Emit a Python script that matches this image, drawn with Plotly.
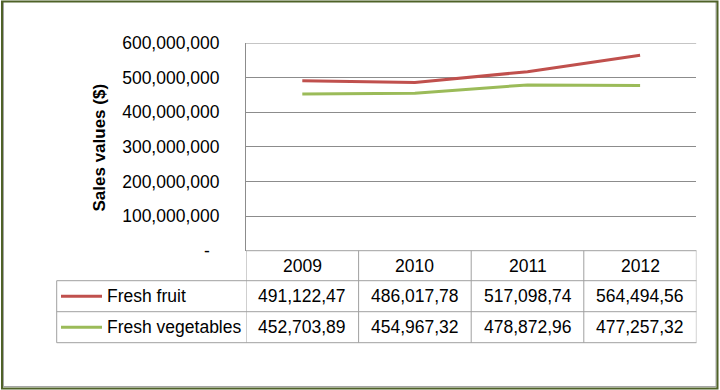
import plotly.graph_objects as go

years = ["2009", "2010", "2011", "2012"]
fruit = [491_122_470, 486_017_780, 517_098_740, 564_494_560]
veg = [452_703_890, 454_967_320, 478_872_960, 477_257_320]
fruit_labels = ["491,122,47", "486,017,78", "517,098,74", "564,494,56"]
veg_labels = ["452,703,89", "454,967,32", "478,872,96", "477,257,32"]
series_names = ["Fresh fruit", "Fresh vegetables"]
series_colors = ["#c0504d", "#9bbb59"]
tick_vals = [0, 100_000_000, 200_000_000, 300_000_000, 400_000_000, 500_000_000, 600_000_000]
tick_text = ["-\u00a0\u00a0", "100,000,000", "200,000,000", "300,000,000",
             "400,000,000", "500,000,000", "600,000,000"]
y_title = "Sales values ($)"

W, H = 720, 390
FONT = "Liberation Sans, Arial, sans-serif"
FS = 17.5
GRID = "#8c8c8c"
TBL = "#a0a0a0"

def px(x):
    return x / W

def py(y):
    return 1 - y / H

plot_left, plot_right = 246, 696.4
plot_top, plot_bottom = 43, 250.7
rows = [250.7, 280.7, 311.7, 342.7]
legend_left = 56.7

fig = go.Figure()
for name, vals, col in zip(series_names, [fruit, veg], series_colors):
    fig.add_trace(go.Scatter(x=years, y=vals, mode="lines", name=name,
                             line=dict(color=col, width=3), showlegend=False))

shapes = []
# top gridline at the axis maximum
shapes.append(dict(type="line", xref="x", yref="y", x0=-0.5, x1=3.5,
                   y0=tick_vals[-1], y1=tick_vals[-1], line=dict(color=GRID, width=1), layer="below"))
shapes.append(dict(type="line", xref="paper", yref="paper", x0=px(plot_left), x1=px(plot_right),
                   y0=py(rows[0]), y1=py(rows[0]), line=dict(color=TBL, width=1)))
for r in rows[1:]:
    shapes.append(dict(type="line", xref="paper", yref="paper", x0=px(legend_left), x1=px(plot_right),
                       y0=py(r), y1=py(r), line=dict(color=TBL, width=1)))
for b in [-0.5, 0.5, 1.5, 2.5, 3.5]:
    shapes.append(dict(type="line", xref="x", yref="paper", x0=b, x1=b,
                       y0=py(rows[0]), y1=py(rows[3]), line=dict(color=TBL, width=1)))
shapes.append(dict(type="line", xref="paper", yref="paper", x0=px(legend_left), x1=px(legend_left),
                   y0=py(rows[1]), y1=py(rows[3]), line=dict(color=TBL, width=1)))
for i, col in enumerate(series_colors):
    yc = (rows[i + 1] + rows[i + 2]) / 2
    shapes.append(dict(type="line", xref="paper", yref="paper", x0=px(61), x1=px(102),
                       y0=py(yc), y1=py(yc), line=dict(color=col, width=3)))
shapes.append(dict(type="line", xref="paper", yref="paper", x0=px(3.5), x1=px(3.5),
                   y0=py(2), y1=py(387), line=dict(color="#a6a6a6", width=1)))
shapes.append(dict(type="line", xref="paper", yref="paper", x0=px(716), x1=px(716),
                   y0=py(2), y1=py(387), line=dict(color="#a6a6a6", width=1)))
shapes.append(dict(type="line", xref="paper", yref="paper", x0=px(3), x1=px(716),
                   y0=py(386.5), y1=py(386.5), line=dict(color="#a6a6a6", width=1)))
shapes.append(dict(type="rect", xref="paper", yref="paper", x0=px(2), x1=px(717.5),
                   y0=py(1.5), y1=py(388.5), line=dict(color="#4f6228", width=2)))

annotations = []
txtfont = dict(family=FONT, size=FS, color="#000000")
hdr_y = (rows[0] + rows[1]) / 2
for i, yr in enumerate(years):
    annotations.append(dict(x=i, y=py(hdr_y), xref="x", yref="paper", text=yr, showarrow=False,
                            xanchor="center", yanchor="middle", font=txtfont))
for r, (name, labels) in enumerate(zip(series_names, [fruit_labels, veg_labels])):
    yc = (rows[r + 1] + rows[r + 2]) / 2
    annotations.append(dict(x=px(105), y=py(yc), xref="paper", yref="paper", text=name,
                            showarrow=False, xanchor="left", yanchor="middle", font=txtfont))
    for i, lab in enumerate(labels):
        annotations.append(dict(x=i, y=py(yc), xref="x", yref="paper", text=lab, showarrow=False,
                                xanchor="center", yanchor="middle", font=txtfont))
annotations.append(dict(x=px(99), y=py(147.5), xref="paper", yref="paper", text="<b>" + y_title + "</b>",
                        textangle=-90, showarrow=False, xanchor="center", yanchor="middle",
                        font=dict(family=FONT, size=17, color="#000000")))

fig.update_layout(
    width=W, height=H,
    margin=dict(l=0, r=0, t=0, b=0, autoexpand=False),
    paper_bgcolor="white", plot_bgcolor="white",
    xaxis=dict(domain=[px(plot_left), px(plot_right)], range=[-0.5, 3.5], type="category",
               showticklabels=False, showgrid=False, zeroline=False, showline=False, fixedrange=True),
    yaxis=dict(domain=[py(plot_bottom), py(plot_top)], range=[0, 600_000_000],
               tickvals=tick_vals, ticktext=tick_text, showgrid=True, gridcolor=GRID, gridwidth=1,
               zeroline=False, showline=True, linecolor=GRID, linewidth=1, ticks="",
               ticklabelstandoff=22, tickfont=txtfont, fixedrange=True),
    shapes=shapes,
    annotations=annotations,
)

fig.write_html("out.html", config={"displayModeBar": False},
               post_script="document.body.style.margin='0';document.body.style.overflow='hidden';")
